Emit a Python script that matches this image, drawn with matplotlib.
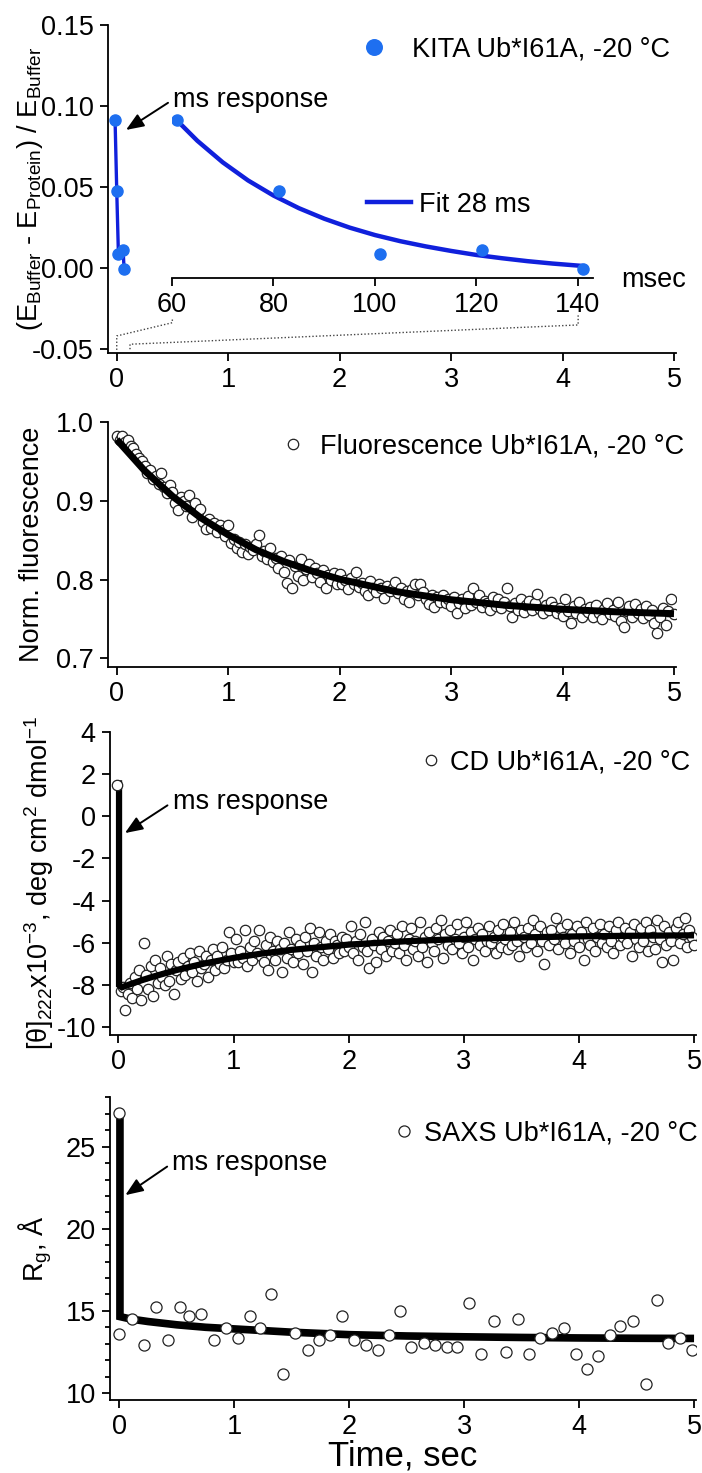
import numpy as np
import matplotlib
matplotlib.use('Agg')
import matplotlib.pyplot as plt
from matplotlib.ticker import MultipleLocator, FormatStrFormatter

plt.rcParams['font.family'] = ['Liberation Sans', 'DejaVu Sans']
plt.rcParams['mathtext.fontset'] = 'custom'
plt.rcParams['mathtext.rm'] = 'Liberation Sans'
plt.rcParams['mathtext.it'] = 'Liberation Sans:italic'
plt.rcParams['mathtext.bf'] = 'Liberation Sans:bold'
plt.rcParams['axes.unicode_minus'] = False

# ---------------- data ----------------
# Panel 1: KITA
kita_ms = [61, 81, 101, 121, 141]
kita_y = [0.0914, 0.0477, 0.0086, 0.0111, -0.0006]
kita_main_t = [-0.015, 0.0, 0.015, 0.057, 0.066]
kita_fit_ms = [61, 65, 70, 75, 80, 85, 90, 95, 100, 105, 110, 115, 120, 125, 130, 135, 141]
kita_fit_y = [0.091, 0.0785, 0.0652, 0.054, 0.0447, 0.0369, 0.0304, 0.0249, 0.0203,
              0.0165, 0.0133, 0.0105, 0.0080, 0.0060, 0.0042, 0.0027, 0.0012]
inset_ticks = [60, 80, 100, 120, 140]
conn1_x = [0.0, 0.0, 0.499, 0.499]
conn1_y = [-0.0506, -0.042, -0.0338, -0.0317]
conn2_x = [0.119, 0.119, 4.14, 4.14]
conn2_y = [-0.0502, -0.0471, -0.0352, -0.029]

# Panel 2: fluorescence (sampled every 0.025 s from 0 to 5 s)
fl_values = [
    0.982, 0.978, 0.983, 0.975, 0.977, 0.970, 0.967, 0.960, 0.955, 0.951,
    0.945, 0.935, 0.940, 0.928, 0.932, 0.922, 0.935, 0.918, 0.910, 0.920,
    0.912, 0.898, 0.889, 0.905, 0.900, 0.893, 0.908, 0.880, 0.897, 0.886,
    0.890, 0.873, 0.865, 0.877, 0.866, 0.872, 0.860, 0.869, 0.863, 0.855,
    0.869, 0.847, 0.852, 0.840, 0.848, 0.835, 0.845, 0.832, 0.842, 0.838,
    0.845, 0.857, 0.830, 0.836, 0.826, 0.840, 0.822, 0.828, 0.815, 0.830,
    0.810, 0.796, 0.825, 0.790, 0.818, 0.805, 0.826, 0.800, 0.814, 0.820,
    0.803, 0.815, 0.808, 0.797, 0.812, 0.790, 0.806, 0.800, 0.808, 0.795,
    0.807, 0.794, 0.799, 0.788, 0.802, 0.795, 0.810, 0.791, 0.796, 0.786,
    0.780, 0.798, 0.790, 0.784, 0.795, 0.789, 0.777, 0.792, 0.785, 0.790,
    0.797, 0.783, 0.790, 0.776, 0.786, 0.771, 0.788, 0.794, 0.780, 0.795,
    0.784, 0.775, 0.769, 0.780, 0.765, 0.778, 0.772, 0.781, 0.770, 0.776,
    0.766, 0.778, 0.758, 0.770, 0.775, 0.764, 0.779, 0.768, 0.789, 0.772,
    0.780, 0.765, 0.773, 0.770, 0.762, 0.778, 0.767, 0.775, 0.764, 0.772,
    0.789, 0.766, 0.753, 0.770, 0.762, 0.775, 0.759, 0.768, 0.773, 0.761,
    0.770, 0.782, 0.763, 0.758, 0.768, 0.761, 0.771, 0.765, 0.757, 0.764,
    0.754, 0.775, 0.760, 0.745, 0.766, 0.758, 0.772, 0.752, 0.763, 0.759,
    0.765, 0.753, 0.768, 0.757, 0.750, 0.763, 0.770, 0.756, 0.761, 0.754,
    0.772, 0.748, 0.740, 0.760, 0.766, 0.752, 0.769, 0.757, 0.763, 0.751,
    0.766, 0.755, 0.761, 0.745, 0.732, 0.752, 0.764, 0.742, 0.760, 0.775,
    0.756]
fl_time = np.arange(len(fl_values)) * 0.025
fl_fit_t = [0, 0.25, 0.5, 0.75, 1.0, 1.25, 1.5, 1.75, 2.0, 2.5, 3.0, 3.5, 4.0, 4.5, 5.0]
fl_fit_y = [0.978, 0.9385, 0.906, 0.879, 0.857, 0.838, 0.823, 0.811, 0.8006, 0.785,
            0.7745, 0.7673, 0.7624, 0.759, 0.7568]

# Panel 3: CD (first point, then every 0.02 s)
cd_first_t = -0.015
cd_first_y = 1.5
cd_values = [
    -8.3, -8.1, -9.2, -8.4, -7.9, -8.6, -7.6, -8.2, -7.3, -8.7,
    -6.0, -7.5, -8.2, -7.1, -8.5, -6.8, -7.9, -7.2, -7.6, -8.0,
    -6.6, -7.8, -7.0, -8.4, -7.3, -6.9, -7.7, -6.7, -7.5, -7.1,
    -6.5, -7.4, -6.9, -7.8, -6.4, -7.2, -7.0, -6.6, -7.6, -6.8,
    -6.3, -7.3, -6.6, -7.0, -6.2, -7.2, -6.8, -5.5, -6.5, -6.9,
    -5.8, -6.9, -6.4, -6.7, -5.4, -7.1, -6.2, -6.8, -5.9, -6.5,
    -5.4, -6.6, -6.9, -6.1, -7.3, -5.7, -6.4, -6.8, -5.9, -6.3,
    -7.4, -6.0, -6.7, -5.5, -6.3, -6.9, -5.8, -6.5, -6.1, -7.0,
    -5.7, -6.4, -5.3, -7.4, -6.0, -6.6, -5.5, -6.2, -6.8, -5.9,
    -6.3, -5.6, -6.7, -5.9, -6.1, -6.5, -5.7, -6.4, -5.8, -6.2,
    -5.2, -6.5, -5.9, -6.8, -5.6, -6.2, -5.0, -6.4, -7.2, -5.8,
    -6.1, -6.9, -5.5, -6.3, -5.7, -6.6, -5.9, -5.4, -6.4, -6.0,
    -5.6, -6.5, -5.2, -6.1, -6.8, -5.8, -5.3, -6.3, -5.9, -6.6,
    -5.0, -6.2, -5.7, -6.9, -5.5, -6.0, -6.4, -5.3, -5.8, -4.9,
    -6.7, -5.6, -6.1, -5.4, -6.3, -5.8, -5.1, -6.0, -6.5, -5.7,
    -5.0, -6.2, -5.5, -6.8, -5.8, -5.3, -6.1, -5.6, -6.4, -5.9,
    -5.2, -6.0, -5.7, -6.5, -5.4, -6.2, -5.1, -5.8, -6.3, -5.5,
    -6.1, -5.0, -5.9, -6.6, -5.4, -5.7, -6.2, -5.3, -6.0, -4.9,
    -5.6, -6.4, -5.2, -5.9, -7.0, -5.5, -6.1, -5.4, -5.8, -4.8,
    -6.3, -5.3, -5.7, -6.0, -5.1, -6.5, -5.6, -5.9, -5.2, -6.2,
    -5.5, -6.8, -5.0, -5.8, -6.1, -5.3, -6.4, -5.7, -5.1, -6.0,
    -5.6, -6.2, -5.2, -5.9, -6.5, -5.4, -5.0, -6.1, -5.7, -5.3,
    -6.0, -5.5, -6.6, -5.1, -5.8, -6.2, -5.3, -5.9, -5.0, -6.4,
    -5.4, -5.7, -6.3, -4.9, -5.8, -6.9, -5.2, -6.1, -5.5, -5.9,
    -6.8, -5.3, -5.0, -6.0, -5.6, -4.8, -6.2, -5.4, -5.7, -6.1]
cd_time = np.arange(1, len(cd_values) + 1) * 0.02
cd_fit_t = [0.005, 0.005, 0.03, 0.1, 0.2, 0.3, 0.5, 0.75, 1.0, 1.25, 1.5, 2.0, 2.5,
            3.0, 3.5, 4.0, 4.5, 5.0]
cd_fit_y = [1.7, -8.0, -8.1, -7.96, -7.77, -7.60, -7.29, -6.97, -6.71, -6.50, -6.33,
            -6.08, -5.92, -5.81, -5.74, -5.69, -5.66, -5.64]

# Panel 4: SAXS
saxs_t = [0.0, 0.0, 0.11, 0.21, 0.32, 0.42, 0.53, 0.61, 0.71, 0.82, 0.93, 1.03, 1.14,
          1.22, 1.32, 1.42, 1.53, 1.64, 1.74, 1.83, 1.94, 2.04, 2.15, 2.25, 2.35, 2.44,
          2.54, 2.65, 2.75, 2.85, 2.94, 3.04, 3.15, 3.26, 3.36, 3.47, 3.56, 3.66, 3.76,
          3.87, 3.97, 4.07, 4.16, 4.27, 4.36, 4.47, 4.58, 4.68, 4.77, 4.88, 4.98]
saxs_rg = [27.07, 13.62, 14.53, 12.91, 15.24, 13.21, 15.24, 14.67, 14.80, 13.21, 13.98,
           13.37, 14.67, 13.98, 16.02, 11.18, 13.66, 12.64, 13.21, 13.52, 14.67, 13.21,
           12.91, 12.64, 13.52, 15.00, 12.80, 13.07, 12.91, 12.80, 12.80, 15.45, 12.36,
           14.37, 12.50, 14.53, 12.36, 13.37, 13.66, 13.98, 12.36, 11.48, 12.24, 13.52,
           14.06, 14.37, 10.57, 15.69, 13.05, 13.37, 12.64]
saxs_fit_t = [0.005, 0.005, 0.1, 0.25, 0.5, 0.75, 1.0, 1.5, 2.0, 2.5, 3.0, 3.5, 4.0,
              4.5, 5.0]
saxs_fit_y = [27.2, 14.65, 14.5, 14.35, 14.15, 14.0, 13.9, 13.7, 13.55, 13.47, 13.42,
              13.38, 13.35, 13.33, 13.32]

time_ticks = [0, 1, 2, 3, 4, 5]

# ---------------- figure ----------------
W, H = 702, 1473
fig = plt.figure(figsize=(W / 100, H / 100), dpi=100)


def px_axes(l, r, t, b):
    return fig.add_axes([l / W, 1 - b / H, (r - l) / W, (b - t) / H])


FS = 19.5
SPW = 1.3


def style(ax):
    for s in ['top', 'right']:
        ax.spines[s].set_visible(False)
    for s in ['left', 'bottom']:
        ax.spines[s].set_linewidth(SPW)
    ax.tick_params(direction='out', length=6, width=SPW, labelsize=FS, pad=4)
    ax.set_xticks(time_ticks)


arrow_kw = dict(arrowstyle='-|>,head_length=0.55,head_width=0.22', color='black',
                lw=1.4, shrinkA=2, shrinkB=0, relpos=(0, 0.5))

PT_BLUE = '#1e6ff0'
LN_BLUE = '#1020dc'

# ---- Panel 1 ----
ax1 = px_axes(107.6, 676, 25, 353.3)
style(ax1)
ax1.set_xlim(-0.082, 5.018)
ax1.set_ylim(-0.0527, 0.15)
ax1.set_yticks([-0.05, 0.0, 0.05, 0.10, 0.15])
ax1.yaxis.set_major_formatter(FormatStrFormatter('%.2f'))
ax1.plot(kita_main_t, kita_y, color=LN_BLUE, lw=2.4, zorder=2)
ax1.plot(kita_main_t, kita_y, 'o', color=PT_BLUE, ms=8, zorder=3)
ax1.plot(conn1_x, conn1_y, color='#444444', lw=1.0, ls=(0, (1, 1.5)))
ax1.plot(conn2_x, conn2_y, color='#444444', lw=1.0, ls=(0, (1, 1.5)))
ax1.annotate('ms response', xy=(0.083, 0.0852), xytext=(0.506, 0.104),
             fontsize=FS, ha='left', va='center', arrowprops=arrow_kw)
ax1.text(4.53, -0.0074, 'msec', fontsize=FS, ha='left', va='center')
ax1.set_ylabel(r'(E$_{\mathrm{Buffer}}$ - E$_{\mathrm{Protein}}$) / E$_{\mathrm{Buffer}}$',
               fontsize=FS)
ax1.yaxis.set_label_coords(-0.11, 0.5)

axi = px_axes(172, 593, 25, 278.3)
axi.patch.set_alpha(0)
for s in ['top', 'right', 'left']:
    axi.spines[s].set_visible(False)
axi.spines['bottom'].set_linewidth(SPW)
axi.tick_params(direction='out', length=6, width=SPW, labelsize=FS, pad=4)
axi.set_yticks([])
axi.set_xticks(inset_ticks)
axi.set_xlim(60, 142.96)
axi.set_ylim(-0.0064, 0.15)
fit_line, = axi.plot(kita_fit_ms, kita_fit_y, color=LN_BLUE, lw=3.2, zorder=2,
                     label='Fit 28 ms')
pts, = axi.plot(kita_ms, kita_y, 'o', color=PT_BLUE, ms=8, zorder=3,
                label='KITA Ub*I61A, -20 °C')
leg1 = ax1.legend(handles=[pts], loc='center right', bbox_to_anchor=(0.99, 0.924),
                  frameon=False, fontsize=FS, handlelength=1.0, handletextpad=0.9,
                  borderpad=0, borderaxespad=0, markerscale=1.4)
ax1.add_artist(leg1)
ax1.legend(handles=[fit_line], loc='center left', bbox_to_anchor=(0.457, 0.452),
           frameon=False, fontsize=FS, handlelength=1.6, handletextpad=0.3,
           borderpad=0, borderaxespad=0)

# ---- Panel 2 ----
ax2 = px_axes(107.6, 676, 422.3, 667)
style(ax2)
ax2.set_xlim(-0.082, 5.018)
ax2.set_ylim(0.689, 1.0)
ax2.set_yticks([0.7, 0.8, 0.9, 1.0])
ax2.yaxis.set_major_formatter(FormatStrFormatter('%.1f'))
fl_pts, = ax2.plot(fl_time, fl_values, 'o', mfc='white', mec='#222222', mew=0.9, ms=7.5,
                   zorder=2, label='Fluorescence Ub*I61A, -20 °C')
ax2.plot(fl_fit_t, fl_fit_y, color='black', lw=5.0, zorder=3, solid_capstyle='butt')
ax2.legend(handles=[fl_pts], loc='center right', bbox_to_anchor=(1.015, 0.903),
           frameon=False, fontsize=FS, handlelength=1.0, handletextpad=0.5,
           borderpad=0, borderaxespad=0)
ax2.set_ylabel('Norm. fluorescence', fontsize=FS)
ax2.yaxis.set_label_coords(-0.11, 0.5)

# ---- Panel 3 ----
ax3 = px_axes(109.6, 696, 731.7, 1035)
style(ax3)
ax3.set_xlim(-0.077, 5.017)
ax3.set_ylim(-10.36, 4)
ax3.set_yticks(list(range(-10, 5, 2)))
cd_pts, = ax3.plot(cd_time, cd_values, 'o', mfc='white', mec='#222222', mew=0.9, ms=7.5,
                   zorder=2, label='CD Ub*I61A, -20 °C')
ax3.plot(cd_fit_t, cd_fit_y, color='black', lw=4.5, zorder=3, solid_joinstyle='miter',
         solid_capstyle='butt')
ax3.plot([cd_first_t], [cd_first_y], 'o', mfc='white', mec='#222222', mew=0.9, ms=7.5,
         zorder=4)
ax3.annotate('ms response', xy=(0.056, -0.80), xytext=(0.47, 0.67),
             fontsize=FS, ha='left', va='center', arrowprops=arrow_kw)
ax3.legend(handles=[cd_pts], loc='center right', bbox_to_anchor=(0.99, 0.897),
           frameon=False, fontsize=FS, handlelength=1.0, handletextpad=0.22,
           borderpad=0, borderaxespad=0)
ax3.set_ylabel(r'[θ]$_{222}$x10$^{-3}$, deg cm$^{2}$ dmol$^{-1}$', fontsize=FS)
ax3.yaxis.set_label_coords(-0.091, 0.5)

# ---- Panel 4 ----
ax4 = px_axes(109.6, 696, 1097.3, 1400)
style(ax4)
ax4.set_xlim(-0.085, 5.017)
ax4.set_ylim(9.57, 28.01)
ax4.set_yticks([10, 15, 20, 25])
ax4.yaxis.set_minor_locator(MultipleLocator(1))
ax4.tick_params(axis='y', which='minor', direction='out', length=3.5, width=SPW)
ax4.plot(saxs_fit_t, saxs_fit_y, color='black', lw=5.5, zorder=2, solid_joinstyle='miter',
         solid_capstyle='butt')
sx_pts, = ax4.plot(saxs_t, saxs_rg, 'o', mfc='white', mec='#222222', mew=0.9, ms=8,
                   zorder=3, label='SAXS Ub*I61A, -20 °C')
ax4.annotate('ms response', xy=(0.052, 22.05), xytext=(0.46, 24.0),
             fontsize=FS, ha='left', va='center', arrowprops=arrow_kw)
ax4.legend(handles=[sx_pts], loc='center right', bbox_to_anchor=(1.003, 0.879),
           frameon=False, fontsize=FS, handlelength=1.0, handletextpad=0.26,
           borderpad=0, borderaxespad=0)
ax4.set_ylabel(r'R$_{\mathrm{g}}$, Å', fontsize=FS)
ax4.yaxis.set_label_coords(-0.095, 0.5)
ax4.set_xlabel('Time, sec', fontsize=25, labelpad=0)

fig.savefig('out.png', dpi=100)
